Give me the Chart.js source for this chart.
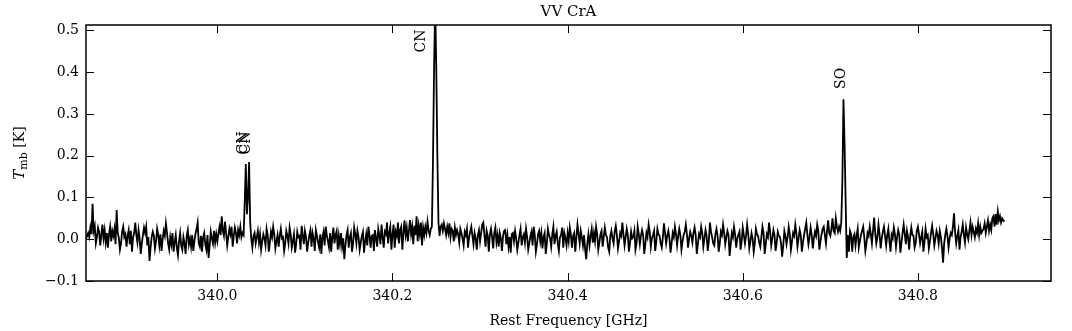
<!DOCTYPE html>
<html>
<head>
<meta charset="utf-8">
<script src="https://cdn.jsdelivr.net/npm/chart.js@4.4.0/dist/chart.umd.min.js"></script>
<style>
  body { margin: 0; background: #fff; }
  #wrap { width: 1072px; height: 331px; }
</style>
</head>
<body>
<div id="wrap"><canvas id="spec" width="1072" height="331"></canvas></div>
<script>
// spectrum channels
var freqStart = 339.85;   // GHz, first channel
var freqStep = 0.00125;   // GHz per channel
var tmb = [
  0.000, 0.008, 0.015, 0.005, 0.028, 0.012, 0.085, 0.020, 0.032, -0.010, 0.005, 0.028, 0.018, -0.015, 0.010, 0.035, 0.002, 0.022, -0.008, 0.015,
  -0.020, 0.012, 0.030, -0.005, 0.020, 0.008, 0.025, -0.012, 0.070, 0.015, 0.003, -0.025, -0.010, 0.018, 0.030, 0.005, 0.012, -0.018, 0.008, 0.022,
  -0.012, 0.020, -0.030, 0.005, 0.015, 0.040, 0.010, -0.008, 0.022, 0.002, -0.035, -0.010, 0.010, 0.028, 0.015, 0.030, -0.015, 0.005, -0.052, -0.020,
  0.005, 0.018, 0.008, -0.022, -0.005, 0.025, 0.010, -0.015, 0.012, -0.028, 0.000, 0.020, 0.008, 0.038, 0.015, -0.010, -0.025, 0.005, -0.012, 0.015,
  -0.030, -0.008, 0.010, -0.020, -0.038, -0.005, 0.015, -0.015, -0.025, 0.005, -0.010, -0.035, 0.008, 0.022, -0.012, 0.002, -0.018, 0.010, -0.028, -0.005,
  0.012, 0.025, 0.040, -0.010, -0.018, 0.008, -0.030, 0.005, 0.015, -0.012, -0.025, 0.010, -0.045, -0.015, 0.018, 0.002, -0.010, 0.020, -0.008, 0.012,
  -0.005, 0.015, 0.030, 0.010, 0.055, 0.020, 0.008, 0.042, 0.015, -0.015, 0.005, 0.025, 0.012, 0.030, -0.018, 0.008, 0.028, 0.015, -0.010, 0.022,
  0.010, 0.030, 0.005, 0.015, 0.010, 0.090, 0.180, 0.060, 0.100, 0.185, 0.040, 0.000, -0.020, 0.008, 0.015, -0.010, 0.005, 0.020, -0.008, 0.012,
  -0.025, -0.005, 0.012, 0.002, -0.015, 0.025, 0.010, -0.030, -0.008, 0.018, 0.005, 0.030, 0.012, -0.022, -0.005, 0.010, -0.018, 0.008, 0.025, 0.002,
  0.005, -0.028, -0.010, 0.020, 0.008, -0.010, 0.028, 0.012, -0.020, -0.005, 0.012, -0.032, -0.012, 0.018, 0.005, 0.008, -0.025, 0.032, 0.010, -0.012,
  0.020, 0.005, -0.030, -0.008, 0.010, 0.022, -0.018, 0.015, 0.002, -0.028, 0.022, 0.008, -0.008, -0.020, 0.012, -0.035, 0.005, 0.018, -0.015, 0.030,
  0.010, -0.005, -0.020, 0.015, -0.030, 0.005, 0.028, -0.010, 0.010, 0.020, -0.025, 0.008, -0.012, 0.015, -0.018, 0.002, -0.048, -0.015, 0.010, 0.022,
  -0.020, 0.005, 0.015, -0.030, -0.010, 0.028, 0.012, -0.010, 0.020, 0.005, -0.025, -0.008, 0.008, 0.018, -0.032, -0.005, 0.012, -0.015, 0.030, 0.010,
  -0.020, 0.008, 0.010, -0.028, 0.022, 0.002, -0.018, 0.025, 0.010, -0.012, 0.035, 0.005, -0.020, 0.018, 0.012, 0.040, -0.010, 0.015, 0.030, -0.025,
  0.012, 0.035, -0.020, 0.018, 0.008, 0.040, -0.010, 0.022, 0.030, -0.025, 0.015, 0.045, 0.010, 0.028, -0.005, 0.020, 0.046, 0.012, 0.030, -0.012,
  0.032, 0.010, 0.055, -0.005, 0.032, 0.012, 0.040, -0.015, 0.028, 0.010, 0.030, 0.015, 0.042, 0.020, 0.010, 0.025, 0.030, 0.190, 0.410, 0.560,
  0.410, 0.200, 0.040, 0.008, 0.030, 0.035, 0.020, 0.038, 0.025, 0.010, 0.030, 0.015, 0.038, 0.005, 0.025, 0.020, -0.005, 0.028, 0.010, 0.022,
  0.012, -0.008, 0.025, 0.015, 0.002, -0.015, 0.018, 0.010, 0.025, -0.020, 0.005, 0.018, 0.030, 0.008, -0.012, 0.015, 0.002, -0.025, 0.010, 0.022,
  -0.005, 0.015, 0.035, 0.040, 0.010, -0.018, 0.020, 0.008, -0.030, 0.012, 0.025, 0.005, -0.022, 0.015, 0.028, -0.008, 0.010, -0.018, 0.015, 0.002,
  -0.028, 0.008, 0.020, 0.022, -0.012, 0.010, -0.018, 0.005, -0.032, 0.012, 0.015, -0.005, 0.020, 0.002, -0.025, -0.008, 0.010, 0.025, -0.015, 0.005,
  0.012, -0.008, 0.025, 0.005, -0.025, -0.010, 0.008, 0.018, -0.015, 0.030, 0.010, -0.030, -0.012, 0.012, 0.020, -0.005, 0.015, -0.022, 0.005, 0.015,
  -0.035, -0.010, 0.025, 0.010, 0.002, -0.018, 0.012, 0.030, -0.012, 0.008, 0.018, -0.010, -0.028, 0.005, 0.010, 0.028, -0.020, 0.015, 0.002, -0.015,
  0.015, -0.005, 0.028, 0.010, -0.020, 0.008, 0.015, -0.030, 0.005, 0.035, 0.012, -0.010, 0.020, 0.005, -0.015, 0.010, -0.025, -0.048, -0.010, 0.012,
  -0.015, 0.008, 0.025, -0.008, 0.015, -0.005, 0.030, 0.012, -0.025, -0.008, 0.012, 0.020, -0.018, 0.005, 0.028, 0.010, 0.005, -0.020, -0.030, 0.008,
  0.020, 0.002, -0.010, 0.018, 0.032, 0.010, -0.022, -0.005, 0.015, 0.008, 0.040, 0.012, -0.015, 0.005, 0.025, 0.010, -0.030, -0.008, 0.018, 0.002,
  0.005, 0.020, -0.025, -0.010, 0.030, 0.012, -0.012, 0.008, 0.022, 0.010, -0.035, -0.012, 0.015, 0.005, 0.035, 0.018, -0.018, 0.002, 0.010, 0.020,
  -0.028, -0.005, 0.025, 0.012, 0.008, -0.010, -0.020, 0.005, 0.038, 0.015, -0.010, 0.008, 0.020, 0.002, -0.032, -0.010, 0.015, 0.005, 0.030, 0.012,
  -0.015, 0.008, 0.025, 0.010, -0.025, -0.005, 0.010, 0.018, 0.035, 0.012, -0.020, 0.002, 0.018, 0.008, -0.008, 0.015, 0.028, 0.010, -0.035, -0.012,
  0.012, 0.005, 0.030, 0.015, -0.018, 0.002, 0.022, 0.008, -0.028, -0.005, 0.040, 0.018, 0.005, -0.010, -0.015, 0.012, 0.025, 0.008, -0.030, -0.010,
  0.018, 0.010, 0.035, 0.015, -0.012, 0.005, 0.020, 0.010, -0.040, -0.012, 0.015, 0.005, 0.030, 0.012, -0.020, 0.002, 0.010, 0.018, -0.025, -0.005,
  0.028, 0.010, -0.010, 0.008, 0.035, 0.012, -0.022, -0.005, 0.015, 0.002, -0.030, -0.010, 0.025, 0.012, 0.008, -0.008, -0.018, 0.005, 0.030, 0.015,
  -0.035, -0.012, 0.012, 0.005, 0.040, 0.018, -0.015, 0.002, 0.022, 0.010, -0.028, -0.008, 0.018, 0.008, 0.005, -0.010, -0.042, -0.015, 0.020, 0.008,
  -0.012, 0.005, 0.030, 0.012, -0.025, -0.005, 0.015, 0.008, 0.035, 0.015, -0.018, 0.002, 0.022, 0.010, -0.030, -0.008, 0.010, 0.025, 0.040, 0.012,
  -0.012, 0.005, 0.028, 0.010, -0.022, 0.002, 0.018, 0.008, 0.035, 0.020, -0.025, -0.005, 0.012, 0.025, 0.030, 0.010, -0.010, 0.020, 0.045, 0.015,
  0.008, 0.025, 0.050, 0.020, 0.015, 0.050, 0.030, 0.018, 0.030, 0.020, 0.040, 0.140, 0.335, 0.230, 0.090, -0.045, 0.010, -0.030, 0.020, 0.012,
  -0.030, 0.005, 0.012, -0.015, 0.008, 0.025, -0.020, -0.005, 0.010, 0.020, 0.030, 0.005, -0.028, -0.010, 0.015, 0.008, 0.030, 0.012, -0.010, 0.020,
  0.052, 0.015, -0.010, 0.005, 0.035, 0.012, -0.022, 0.002, 0.018, 0.030, 0.008, -0.015, 0.010, 0.025, -0.005, -0.030, 0.010, 0.002, 0.028, 0.012,
  -0.018, 0.005, 0.022, 0.010, -0.032, -0.008, 0.015, 0.035, 0.012, -0.012, 0.020, 0.005, -0.025, 0.008, 0.028, 0.010, 0.008, -0.020, -0.010, 0.020,
  0.030, 0.012, -0.010, 0.005, 0.018, -0.030, -0.008, 0.025, 0.005, 0.010, -0.022, -0.005, 0.015, 0.032, 0.012, -0.015, 0.002, 0.020, 0.010, -0.010,
  0.020, 0.005, -0.020, -0.056, -0.010, 0.010, 0.025, 0.008, -0.020, 0.002, 0.015, 0.010, 0.030, 0.062, 0.015, -0.010, 0.008, 0.022, -0.025, 0.005,
  0.018, 0.035, 0.010, -0.008, 0.028, 0.012, 0.000, 0.020, 0.040, 0.010, 0.030, 0.018, 0.005, 0.025, 0.015, 0.038, 0.010, 0.030, 0.015, 0.020,
  0.025, 0.038, 0.015, 0.030, 0.045, 0.020, 0.035, 0.022, 0.050, 0.055, 0.030, 0.060, 0.035, 0.066, 0.045, 0.055, 0.040, 0.050, 0.045, 0.042
];

var xTicks = [340.0, 340.2, 340.4, 340.6, 340.8];
var yTicks = [-0.1, 0.0, 0.1, 0.2, 0.3, 0.4, 0.5];

// line identifications
var lineNames = ["CN", "CN", "CN", "SO"];
var lineFreqs = [340.0299, 340.0333, 340.2325, 340.713];
var lineLabelY = [0.203, 0.203, 0.447, 0.36];

var titleText = "VV CrA";
var xTitle = "Rest Frequency [GHz]";

var serif = "'DejaVu Serif', serif";

var points = tmb.map(function (v, i) {
  return { x: freqStart + i * freqStep, y: v };
});

// frame, inward ticks, titles and line labels
var decor = {
  id: "decor",
  afterDraw: function (chart) {
    var ctx = chart.ctx;
    var a = chart.chartArea;
    var xs = chart.scales.x, ys = chart.scales.y;
    ctx.save();
    ctx.strokeStyle = "#000";
    ctx.lineWidth = 1;
    xTicks.forEach(function (v) {
      var px = Math.round(xs.getPixelForValue(v)) + 0.5;
      ctx.beginPath();
      ctx.moveTo(px, a.bottom); ctx.lineTo(px, a.bottom - 8);
      ctx.moveTo(px, a.top); ctx.lineTo(px, a.top + 8);
      ctx.stroke();
    });
    yTicks.forEach(function (v) {
      var py = Math.round(ys.getPixelForValue(v)) + 0.5;
      ctx.beginPath();
      ctx.moveTo(a.left, py); ctx.lineTo(a.left + 8, py);
      ctx.moveTo(a.right, py); ctx.lineTo(a.right - 8, py);
      ctx.stroke();
    });
    ctx.lineWidth = 1.5;
    ctx.strokeRect(a.left, a.top, a.right - a.left, a.bottom - a.top);

    ctx.fillStyle = "#000";
    // title
    ctx.font = "15px " + serif;
    ctx.textAlign = "center";
    ctx.textBaseline = "alphabetic";
    ctx.fillText(titleText, (a.left + a.right) / 2, 16);
    // x title
    ctx.font = "14px " + serif;
    ctx.fillText(xTitle, (a.left + a.right) / 2, 325);

    // y title: T_mb [K]
    ctx.save();
    ctx.translate(24, (a.top + a.bottom) / 2);
    ctx.rotate(-Math.PI / 2);
    ctx.textAlign = "left";
    var f1 = "italic 15px " + serif, f2 = "11px " + serif, f3 = "14px " + serif;
    ctx.font = f1; var w1 = ctx.measureText("T").width;
    ctx.font = f2; var w2 = ctx.measureText("mb").width;
    ctx.font = f3; var w3 = ctx.measureText(" [K]").width;
    var x0 = -(w1 + w2 + w3) / 2;
    ctx.font = f1; ctx.fillText("T", x0, 0);
    ctx.font = f2; ctx.fillText("mb", x0 + w1, 3);
    ctx.font = f3; ctx.fillText(" [K]", x0 + w1 + w2, 0);
    ctx.restore();

    // line labels, rotated
    ctx.font = "14px " + serif;
    lineNames.forEach(function (name, i) {
      var px = xs.getPixelForValue(lineFreqs[i]);
      var py = ys.getPixelForValue(lineLabelY[i]);
      ctx.save();
      ctx.translate(px, py);
      ctx.rotate(-Math.PI / 2);
      ctx.textAlign = "left";
      ctx.textBaseline = "middle";
      ctx.fillText(name, 0, 0);
      ctx.restore();
    });
    ctx.restore();
  }
};

new Chart("spec", {
  type: "line",
  data: {
    datasets: [{
      data: points,
      borderColor: "#000",
      borderWidth: 1.8,
      pointRadius: 0,
      tension: 0,
      fill: false
    }]
  },
  options: {
    responsive: false,
    animation: false,
    devicePixelRatio: 1,
    layout: { padding: { top: 25, right: 21, left: 0, bottom: 0 } },
    plugins: {
      legend: { display: false },
      tooltip: { enabled: false }
    },
    scales: {
      x: {
        type: "linear",
        min: 339.85,
        max: 340.952,
        afterBuildTicks: function (s) {
          s.ticks = xTicks.map(function (v) { return { value: v }; });
        },
        afterFit: function (s) { s.height = 50; },
        grid: { display: false, drawTicks: false },
        border: { display: false },
        ticks: {
          color: "#000",
          padding: 7,
          maxRotation: 0,
          autoSkip: false,
          font: { family: serif, size: 14 },
          callback: function (v) { return v.toFixed(1); }
        }
      },
      y: {
        min: -0.1,
        max: 0.513,
        afterBuildTicks: function (s) {
          s.ticks = yTicks.map(function (v) { return { value: v }; });
        },
        afterFit: function (s) { s.width = 86; },
        grid: { display: false, drawTicks: false },
        border: { display: false },
        ticks: {
          color: "#000",
          padding: 7,
          autoSkip: false,
          font: { family: serif, size: 14 },
          callback: function (v) {
            return (v < -1e-9 ? "\u2212" : "") + Math.abs(v).toFixed(1);
          }
        }
      }
    }
  },
  plugins: [decor]
});
</script>
</body>
</html>
